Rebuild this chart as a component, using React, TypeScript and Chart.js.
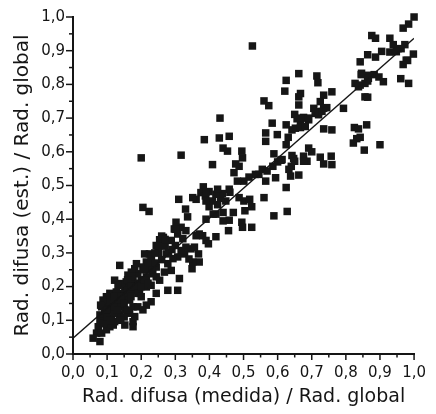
import { useEffect, useRef } from "react";
import { Chart, registerables } from "chart.js";

Chart.register(...registerables);

// Measured diffuse / global ratio (x) and estimated diffuse / global ratio (y)
const measured = [
  1.0, 0.984, 0.968, 0.998, 0.929, 0.939, 0.953, 0.973, 0.929, 0.905, 0.887, 0.876, 0.887, 0.864, 0.842, 0.845,
  0.864, 0.883, 0.897, 0.91, 0.961, 0.984, 0.968, 0.981, 0.827, 0.842, 0.856, 0.864, 0.856, 0.864, 0.825, 0.837,
  0.861, 0.822, 0.832, 0.842, 0.854, 0.9, 0.793, 0.759, 0.735, 0.715, 0.718, 0.725, 0.706, 0.72, 0.735, 0.744,
  0.71, 0.691, 0.676, 0.667, 0.657, 0.65, 0.642, 0.652, 0.667, 0.681, 0.735, 0.759, 0.662, 0.662, 0.667, 0.662,
  0.625, 0.621, 0.625, 0.631, 0.625, 0.642, 0.647, 0.64, 0.633, 0.638, 0.625, 0.628, 0.662, 0.65, 0.676, 0.691,
  0.7, 0.686, 0.725, 0.735, 0.757, 0.759, 0.613, 0.589, 0.586, 0.594, 0.589, 0.599, 0.584, 0.565, 0.565, 0.56,
  0.574, 0.526, 0.555, 0.545, 0.569, 0.565, 0.56, 0.535, 0.516, 0.501, 0.482, 0.472, 0.487, 0.495, 0.497, 0.477,
  0.487, 0.501, 0.518, 0.504, 0.524, 0.495, 0.497, 0.524, 0.458, 0.458, 0.456, 0.44, 0.448, 0.433, 0.438, 0.424,
  0.419, 0.419, 0.399, 0.409, 0.411, 0.399, 0.39, 0.419, 0.409, 0.429, 0.44, 0.458, 0.453, 0.431, 0.385, 0.382,
  0.375, 0.388, 0.39, 0.361, 0.351, 0.37, 0.38, 0.39, 0.397, 0.361, 0.368, 0.37, 0.351, 0.349, 0.346, 0.336,
  0.331, 0.317, 0.31, 0.317, 0.302, 0.297, 0.307, 0.322, 0.331, 0.327, 0.317, 0.3, 0.307, 0.293, 0.288, 0.265,
  0.254, 0.244, 0.273, 0.278, 0.288, 0.278, 0.307, 0.312, 0.268, 0.254, 0.244, 0.244, 0.229, 0.215, 0.205, 0.2,
  0.205, 0.223, 0.224, 0.21, 0.229, 0.215, 0.205, 0.229, 0.244, 0.234, 0.215, 0.2, 0.19, 0.181, 0.186, 0.176,
  0.181, 0.195, 0.215, 0.229, 0.195, 0.171, 0.156, 0.152, 0.142, 0.147, 0.156, 0.166, 0.176, 0.181, 0.176, 0.176,
  0.152, 0.137, 0.127, 0.118, 0.098, 0.113, 0.122, 0.137, 0.152, 0.166, 0.137, 0.118, 0.108, 0.098, 0.103, 0.088,
  0.084, 0.093, 0.079, 0.088, 0.079, 0.074, 0.069, 0.084, 0.098, 0.108, 0.118, 0.059, 0.079, 0.081, 0.127, 0.161,
  0.171, 0.122, 0.132, 0.137, 0.118, 0.108, 0.098, 0.26, 0.25, 0.27, 0.28, 0.29, 0.23, 0.22, 0.24, 0.19,
  0.17, 0.16, 0.13, 0.14, 0.12, 0.1, 0.11, 0.356, 0.33, 0.44, 0.47, 0.46, 0.39, 0.424, 0.6, 0.61,
  0.676, 0.67, 0.69, 0.72, 0.73, 0.846, 0.866, 0.837, 0.962, 0.948, 0.977, 0.3, 0.26, 0.27, 0.34,
  0.09, 0.1, 0.11, 0.12, 0.13, 0.14, 0.15, 0.16, 0.17, 0.18, 0.19, 0.2, 0.21, 0.22, 0.21, 0.23,
  0.24, 0.25, 0.2, 0.19, 0.15, 0.14, 0.12, 0.16, 0.17,
];

const estimated = [
  1.0, 0.979, 0.967, 0.89, 0.937, 0.918, 0.906, 0.918, 0.896, 0.898, 0.881, 0.945, 0.937, 0.888, 0.867, 0.829,
  0.827, 0.829, 0.822, 0.808, 0.817, 0.803, 0.859, 0.871, 0.803, 0.798, 0.803, 0.81, 0.763, 0.762, 0.672, 0.668,
  0.68, 0.626, 0.639, 0.643, 0.605, 0.621, 0.729, 0.778, 0.768, 0.825, 0.805, 0.749, 0.729, 0.719, 0.729, 0.731,
  0.714, 0.695, 0.702, 0.69, 0.698, 0.711, 0.665, 0.67, 0.672, 0.675, 0.668, 0.665, 0.739, 0.763, 0.773, 0.832,
  0.812, 0.78, 0.68, 0.643, 0.621, 0.589, 0.58, 0.557, 0.548, 0.528, 0.494, 0.423, 0.531, 0.572, 0.587, 0.611,
  0.6, 0.572, 0.584, 0.564, 0.587, 0.562, 0.577, 0.594, 0.557, 0.523, 0.41, 0.651, 0.685, 0.656, 0.631, 0.751,
  0.737, 0.914, 0.548, 0.533, 0.543, 0.513, 0.464, 0.533, 0.525, 0.513, 0.513, 0.538, 0.557, 0.602, 0.582, 0.564,
  0.464, 0.454, 0.459, 0.425, 0.437, 0.391, 0.376, 0.376, 0.489, 0.397, 0.366, 0.395, 0.454, 0.462, 0.476, 0.443,
  0.415, 0.474, 0.482, 0.454, 0.415, 0.437, 0.4, 0.348, 0.562, 0.641, 0.611, 0.646, 0.602, 0.7, 0.636, 0.496,
  0.479, 0.469, 0.454, 0.459, 0.464, 0.356, 0.351, 0.337, 0.327, 0.351, 0.297, 0.273, 0.273, 0.253, 0.312, 0.407,
  0.366, 0.376, 0.459, 0.59, 0.391, 0.371, 0.356, 0.342, 0.317, 0.297, 0.307, 0.322, 0.288, 0.283, 0.337, 0.346,
  0.339, 0.322, 0.297, 0.268, 0.248, 0.189, 0.189, 0.224, 0.243, 0.219, 0.229, 0.18, 0.155, 0.145, 0.131, 0.582,
  0.435, 0.423, 0.297, 0.297, 0.283, 0.273, 0.258, 0.263, 0.258, 0.238, 0.229, 0.219, 0.238, 0.253, 0.268, 0.219,
  0.199, 0.199, 0.199, 0.204, 0.18, 0.189, 0.214, 0.194, 0.209, 0.18, 0.17, 0.16, 0.14, 0.111, 0.096, 0.081,
  0.086, 0.17, 0.14, 0.131, 0.101, 0.106, 0.096, 0.116, 0.131, 0.121, 0.263, 0.175, 0.18, 0.17, 0.15, 0.16,
  0.14, 0.126, 0.116, 0.106, 0.096, 0.081, 0.062, 0.062, 0.072, 0.081, 0.086, 0.047, 0.037, 0.145, 0.184, 0.234,
  0.243, 0.219, 0.204, 0.15, 0.155, 0.14, 0.126, 0.28, 0.3, 0.32, 0.3, 0.31, 0.25, 0.27, 0.27, 0.21,
  0.23, 0.19, 0.16, 0.14, 0.12, 0.13, 0.155, 0.317, 0.43, 0.42, 0.42, 0.48, 0.478, 0.489, 0.57, 0.575,
  0.572, 0.7, 0.7, 0.71, 0.72, 0.833, 0.818, 0.793, 0.906, 0.897, 0.872, 0.37, 0.35, 0.34, 0.282,
  0.09, 0.11, 0.1, 0.14, 0.13, 0.17, 0.15, 0.13, 0.17, 0.2, 0.18, 0.2, 0.22, 0.21, 0.25, 0.29,
  0.3, 0.32, 0.17, 0.14, 0.11, 0.1, 0.17, 0.22, 0.2,
];

// Fitted line
const fitIntercept = 0.047;
const fitSlope = 0.89;
const fitXRange = [0, 1];

const xTitle = "Rad. difusa (medida) / Rad. global";
const yTitle = "Rad. difusa (est.) / Rad. global";

const fontFamily = "'DejaVu Sans', 'Liberation Sans', Arial, sans-serif";
const ink = "#151515";

const fmt = (v: number) => Number(v).toFixed(1).replace(".", ",");

const outerTicks = {
  id: "outerTicks",
  afterDraw(chart: any) {
    const { ctx, chartArea } = chart;
    const xs = chart.scales.x;
    const ys = chart.scales.y;
    ctx.save();
    ctx.strokeStyle = ink;
    ctx.lineWidth = 1.5;
    for (let i = 0; i <= 20; i++) {
      const v = i / 20;
      const major = i % 2 === 0;
      const lenX = major ? 6 : 3.5;
      const lenY = major ? 7 : 4;
      const px = xs.getPixelForValue(v);
      ctx.beginPath();
      ctx.moveTo(px, chartArea.bottom);
      ctx.lineTo(px, chartArea.bottom + lenX);
      ctx.stroke();
      const py = ys.getPixelForValue(v);
      ctx.beginPath();
      ctx.moveTo(chartArea.left, py);
      ctx.lineTo(chartArea.left - lenY, py);
      ctx.stroke();
    }
    ctx.restore();
  },
};

export default function App() {
  const ref = useRef<HTMLCanvasElement | null>(null);

  useEffect(() => {
    if (!ref.current) return;
    const points = measured.map((x, i) => ({ x, y: estimated[i] }));
    const fit = fitXRange.map((x) => ({ x, y: fitIntercept + fitSlope * x }));
    const chart = new Chart(ref.current, {
      type: "scatter",
      data: {
        datasets: [
          {
            data: fit,
            showLine: true,
            borderColor: ink,
            borderWidth: 1.3,
            pointRadius: 0,
            fill: false,
          } as any,
          {
            data: points,
            pointStyle: "rect",
            pointRadius: 5.3,
            backgroundColor: "#161616",
            borderWidth: 0,
            clip: false,
          } as any,
        ],
      },
      options: {
        animation: false,
        responsive: false,
        devicePixelRatio: 1,
        layout: { padding: { top: 15, right: 20, bottom: 0, left: 0 } },
        plugins: {
          legend: { display: false },
          tooltip: { enabled: false },
        },
        scales: {
          x: {
            type: "linear",
            min: 0,
            max: 1,
            position: "bottom",
            grid: { display: false, drawTicks: false },
            border: { display: true, color: ink, width: 2 },
            ticks: {
              stepSize: 0.1,
              autoSkip: false,
              maxRotation: 0,
              padding: 10,
              color: ink,
              font: { family: fontFamily, size: 15 },
              callback: (v: any) => fmt(v),
            },
            title: {
              display: true,
              text: xTitle,
              color: ink,
              font: { family: fontFamily, size: 19 },
              padding: { top: 0, bottom: 6 },
            },
            afterFit: (s: any) => {
              s.height = 60;
            },
          },
          y: {
            type: "linear",
            min: 0,
            max: 1,
            position: "left",
            grid: { display: false, drawTicks: false },
            border: { display: true, color: ink, width: 2 },
            ticks: {
              stepSize: 0.1,
              autoSkip: false,
              padding: 8,
              color: ink,
              font: { family: fontFamily, size: 15 },
              callback: (v: any) => fmt(v),
            },
            title: {
              display: true,
              text: yTitle,
              color: ink,
              font: { family: fontFamily, size: 20 },
              padding: { top: 11, bottom: 0 },
            },
            afterFit: (s: any) => {
              s.width = 73;
            },
          },
        },
      },
      plugins: [outerTicks],
    } as any);
    return () => chart.destroy();
  }, []);

  return (
    <div style={{ position: "absolute", left: 0, top: 0, width: 436, height: 414 }}>
      <canvas ref={ref} width={436} height={414} style={{ display: "block", width: 436, height: 414 }} />
    </div>
  );
}
